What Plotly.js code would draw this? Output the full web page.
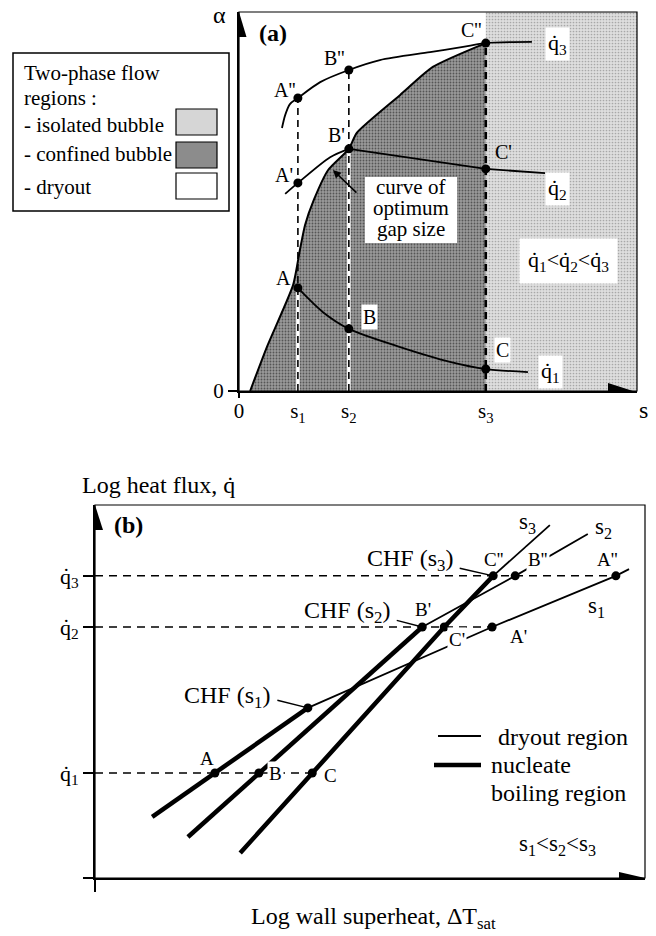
<!DOCTYPE html>
<html>
<head>
<meta charset="utf-8">
<script src="https://cdn.plot.ly/plotly-3.0.1.min.js"></script>
<style>
  html, body { margin: 0; padding: 0; background: #fff; }
  #chart { width: 656px; height: 936px; }
</style>
</head>
<body>
<div id="chart"></div>
<script>
const W = 656, H = 936;
const FONT = 'Liberation Serif, Times New Roman, Times, serif';
const LIGHT = '#d6d6d6';   // isolated bubble region
const DARK = '#8c8c8c';    // confined bubble region
const S_MAX = 10, ALPHA_MAX = 10;

// ---------- Panel (a): void fraction alpha against gap size s ----------
const gapNames = ['s<sub>1</sub>', 's<sub>2</sub>', 's<sub>3</sub>'];
const gapS = [1.48, 2.76, 6.2];
const alphaQ1 = [2.72, 1.64, 0.58];   // A, B, C
const alphaQ2 = [5.49, 6.39, 5.86];   // A', B', C'
const alphaQ3 = [7.73, 8.47, 9.18];   // A'', B'', C''
const namesQ1 = ['A', 'B', 'C'];
const namesQ2 = ["A'", "B'", "C'"];
const namesQ3 = ["A''", "B''", "C''"];

const q1CurveS = [1.48, 2.11, 2.76, 4.05, 5.3, 6.2, 7.26];
const q1CurveA = [2.72, 2.08, 1.64, 1.16, 0.77, 0.58, 0.5];
const q2RiseS = [1.16, 1.48, 2.29, 2.76];
const q2RiseA = [5.2, 5.49, 6.17, 6.39];
const q2FallS = [2.76, 6.2, 7.69];
const q2FallA = [6.39, 5.86, 5.75];
const q3CurveS = [1.08, 1.16, 1.28, 1.48, 2.04, 2.76, 3.54, 4.8, 5.63, 6.2, 7.36];
const q3CurveA = [6.94, 7.28, 7.57, 7.73, 8.15, 8.47, 8.73, 8.94, 9.08, 9.18, 9.21];

// curve of optimum gap size (upper edge of the confined bubble region)
const optS = [0.28, 0.70, 1.36, 1.53, 1.66, 1.88, 2.24, 2.76, 2.96, 4.05, 4.87, 6.2];
const optA = [0, 1.16, 2.80, 3.72, 4.38, 5.04, 5.83, 6.39, 6.81, 7.81, 8.55, 9.18];

// ---------- Panel (b): log heat flux against log wall superheat ----------
const qNames = ['q\u0307<sub>1</sub>', 'q\u0307<sub>2</sub>', 'q\u0307<sub>3</sub>'];
const qLevels = [2.815, 6.73, 8.10];
const tAtQ1 = [2.18, 2.98, 3.95];     // A, B, C
const tAtQ2 = [7.22, 5.95, 6.35];     // A', B', C'
const tAtQ3 = [9.47, 7.64, 7.24];     // A'', B'', C''
const chfS1 = { t: 3.87, q: 4.56 };

const s1NucT = [1.04, 2.18, 3.87], s1NucQ = [1.64, 2.815, 4.56];
const s1DryT = [3.87, 7.22, 9.47, 9.71], s1DryQ = [4.56, 6.73, 8.10, 8.28];
const s2NucT = [1.69, 2.98, 5.95], s2NucQ = [1.10, 2.815, 6.73];
const s2DryT = [5.95, 7.64, 8.96], s2DryQ = [6.73, 8.10, 9.22];
const s3NucT = [2.64, 3.95, 6.35, 7.24], s3NucQ = [0.67, 2.815, 6.73, 8.10];
const s3DryT = [7.24, 8.27], s3DryQ = [8.10, 9.46];

const px = v => v / W;
const py = v => 1 - v / H;
const BLACK = '#000';

const traces = [];
function add(t) {
  traces.push(Object.assign({ hoverinfo: 'skip', showlegend: false }, t));
}
function path(x, y, ax, width, extra) {
  add(Object.assign({
    x, y, xaxis: ax[0], yaxis: ax[1], mode: 'lines',
    line: Object.assign({ color: BLACK, width }, extra || {})
  }));
}
const PA = ['x', 'y'], PB = ['x2', 'y2'];

// regions, stippled like the printed screens
add({ x: [gapS[2], S_MAX], y: [ALPHA_MAX, ALPHA_MAX], xaxis: 'x', yaxis: 'y', mode: 'lines',
      line: { width: 0, color: LIGHT }, fill: 'tozeroy', fillcolor: LIGHT,
      fillpattern: { shape: '.', size: 3, solidity: 0.25, fgcolor: '#a8a8a8', bgcolor: '#dedede' } });
add({ x: optS, y: optA, xaxis: 'x', yaxis: 'y', mode: 'lines',
      line: { color: BLACK, width: 2, shape: 'spline', smoothing: 0.6 },
      fill: 'tozeroy', fillcolor: DARK,
      fillpattern: { shape: '.', size: 3, solidity: 0.3, fgcolor: '#555555', bgcolor: '#9a9a9a' } });

// gap-size verticals
path([gapS[0], gapS[0]], [0, alphaQ1[0]], PA, 3.5, { color: '#fff' });
path([gapS[1], gapS[1]], [0, alphaQ2[1]], PA, 3.5, { color: '#fff' });
path([gapS[0], gapS[0]], [0, alphaQ3[0]], PA, 1.6, { dash: '7px,5px' });
path([gapS[1], gapS[1]], [0, alphaQ3[1]], PA, 1.6, { dash: '7px,5px' });
path([gapS[2], gapS[2]], [0, alphaQ3[2]], PA, 2.6, { dash: '7px,5px' });

// constant heat flux curves
path(q1CurveS, q1CurveA, PA, 1.8, { shape: 'spline', smoothing: 0.8 });
path(q2RiseS, q2RiseA, PA, 1.8, { shape: 'spline', smoothing: 0.8 });
path(q2FallS, q2FallA, PA, 1.8);
path(q3CurveS, q3CurveA, PA, 1.8, { shape: 'spline', smoothing: 0.8 });

add({ x: gapS.concat(gapS, gapS), y: alphaQ1.concat(alphaQ2, alphaQ3), xaxis: 'x', yaxis: 'y',
      mode: 'markers', marker: { color: BLACK, size: 9 } });

// panel (b): constant heat flux levels
path([0, tAtQ1[2]], [qLevels[0], qLevels[0]], PB, 1.5, { dash: '8px,6px' });
path([0, tAtQ2[0]], [qLevels[1], qLevels[1]], PB, 1.5, { dash: '8px,6px' });
path([0, tAtQ3[0]], [qLevels[2], qLevels[2]], PB, 1.5, { dash: '8px,6px' });

// boiling curves
path(s1DryT, s1DryQ, PB, 1.8);
path(s2DryT, s2DryQ, PB, 1.8);
path(s3DryT, s3DryQ, PB, 1.8);
path(s1NucT, s1NucQ, PB, 4.5);
path(s2NucT, s2NucQ, PB, 4.5);
path(s3NucT, s3NucQ, PB, 4.5);

add({ x: tAtQ1.concat(tAtQ2, tAtQ3, [chfS1.t]),
      y: tAtQ1.map(() => qLevels[0]).concat(tAtQ2.map(() => qLevels[1]), tAtQ3.map(() => qLevels[2]), [chfS1.q]),
      xaxis: 'x2', yaxis: 'y2', mode: 'markers', marker: { color: BLACK, size: 9 } });

// ---------- annotations ----------
const ann = [];
function note(o, size) {
  ann.push(Object.assign({ showarrow: false, xanchor: 'center', yanchor: 'middle',
                           font: { family: FONT, size: size || 21, color: BLACK } }, o));
}
function at(xPix, yPix, text, size, extra) {
  note(Object.assign({ xref: 'paper', yref: 'paper', x: px(xPix), y: py(yPix), text }, extra || {}), size);
}

// panel (a)
at(219, 15, '\u03b1', 24);
at(273, 33, '<b>(a)</b>', 24);
at(643, 410, 's', 24);
const shiftA = {
  q1: [[-14, 10], [21, 12], [17, 19]],
  q2: [[-14, 8], [-12, 14], [18, 17]],
  q3: [[-13, 8], [-14, 12], [-14, 13]]
};
[[alphaQ1, namesQ1, shiftA.q1, [false, true, true]],
 [alphaQ2, namesQ2, shiftA.q2, [false, false, false]],
 [alphaQ3, namesQ3, shiftA.q3, [false, false, false]]].forEach(([al, nm, sh, bg]) => {
  al.forEach((a, i) => note({ xref: 'x', yref: 'y', x: gapS[i], y: a, text: nm[i],
    xshift: sh[i][0], yshift: sh[i][1], bgcolor: bg[i] ? '#fff' : 'rgba(0,0,0,0)', borderpad: 1 }, 20));
});
at(557, 44, qNames[2], 22, { bgcolor: '#fff', borderpad: 2 });
at(557, 189, qNames[1], 22, { bgcolor: '#fff', borderpad: 2 });
at(550, 372, qNames[0], 22, { bgcolor: '#fff', borderpad: 2 });
at(568, 261, qNames[0] + '&lt;' + qNames[1] + '&lt;' + qNames[2], 22, { bgcolor: '#fff', borderpad: 8 });
['curve of', 'optimum', 'gap size'].forEach((t, i) => at(411, 187 + 21 * i, t, 21));
note({ xref: 'x', yref: 'y', x: 2.36, y: 5.83, text: '', showarrow: true, arrowhead: 2,
       arrowsize: 1, arrowwidth: 1.6, arrowcolor: BLACK, ax: 25, ay: 24 });

// legend of flow regions
at(22, 73, 'Two-phase flow', 21, { xanchor: 'left' });
at(22, 98, 'regions :', 21, { xanchor: 'left' });
at(22, 125, '- isolated bubble', 21, { xanchor: 'left' });
at(22, 154, '- confined bubble', 21, { xanchor: 'left' });
at(22, 187, '- dryout', 21, { xanchor: 'left' });

// panel (b)
at(128, 525, '<b>(b)</b>', 24);
at(80, 485, 'Log heat flux, q\u0307', 24, { xanchor: 'left' });
at(373, 918, 'Log wall superheat, \u0394T<sub>sat</sub>', 24);
at(527, 523, 's<sub>3</sub>', 23);
at(603, 528, 's<sub>2</sub>', 23);
at(596, 607, 's<sub>1</sub>', 23);
at(410, 560, 'CHF (s<sub>3</sub>)', 24);
at(347, 612, 'CHF (s<sub>2</sub>)', 24);
at(227, 697, 'CHF (s<sub>1</sub>)', 24);
at(557, 845, 's<sub>1</sub>&lt;s<sub>2</sub>&lt;s<sub>3</sub>', 23);
at(496, 737, 'dryout region', 24, { xanchor: 'left' });
at(489, 765, 'nucleate', 24, { xanchor: 'left' });
at(489, 793, 'boiling region', 24, { xanchor: 'left' });

const shiftB = {
  q1: [[-8, 15], [17, 0], [18, -2]],
  q2: [[26, -10], [1, 17], [13, -13]],
  q3: [[-8, 16], [23, 16], [1, 16]]
};
const bgB = { q1: [false, true, false], q2: [false, false, true], q3: [false, true, false] };
[[tAtQ1, 0, namesQ1, 'q1'], [tAtQ2, 1, namesQ2, 'q2'], [tAtQ3, 2, namesQ3, 'q3']].forEach(([ts, k, nm, key]) => {
  ts.forEach((t, i) => note({ xref: 'x2', yref: 'y2', x: t, y: qLevels[k], text: nm[i],
    xshift: shiftB[key][i][0], yshift: shiftB[key][i][1],
    bgcolor: bgB[key][i] ? '#fff' : 'rgba(0,0,0,0)', borderpad: 1 }, 19));
});
// leaders from the CHF labels to their points
[[tAtQ3[2], qLevels[2], -35, -8], [tAtQ2[1], qLevels[1], -27, -7], [chfS1.t, chfS1.q, -32, -8]].forEach(([t, q, dx, dy]) =>
  note({ xref: 'x2', yref: 'y2', x: t, y: q, text: '', showarrow: true, arrowhead: 0,
         arrowwidth: 1.4, arrowcolor: BLACK, ax: dx, ay: dy, standoff: 0 }));

// ---------- shapes: frames, axis arrows, legend keys ----------
const shapes = [];
function rectPix(x0, y0, x1, y1, fill, lw) {
  shapes.push({ type: 'rect', xref: 'paper', yref: 'paper', x0: px(x0), x1: px(x1), y0: py(y1), y1: py(y0),
                fillcolor: fill || 'rgba(0,0,0,0)',
                line: { color: lw === 0 ? 'rgba(0,0,0,0)' : BLACK, width: lw == null ? 1.2 : lw } });
}
function segPix(x0, y0, x1, y1, lw) {
  shapes.push({ type: 'line', xref: 'paper', yref: 'paper', x0: px(x0), x1: px(x1), y0: py(y0), y1: py(y1),
                line: { color: BLACK, width: lw } });
}
function arrow(xref, yref, xa, ya, p) {
  shapes.push({ type: 'path', xref, yref, xsizemode: 'pixel', ysizemode: 'pixel',
                xanchor: xa, yanchor: ya, path: p, fillcolor: BLACK, line: { width: 0 } });
}
rectPix(239, 12, 637, 391, null, 1.2);
rectPix(95, 505, 645, 878, null, 1.2);
segPix(239, 391, 239, 398, 2);
arrow('x', 'y', 0, ALPHA_MAX, 'M-7.5,-25L7.5,-25L0,0Z');
arrow('x', 'y', 9.9, 0, 'M-25,-8L-25,8L0,0Z');
arrow('x2', 'y2', 0, 10, 'M-8,-25L8,-25L0,0Z');
arrow('x2', 'y2', 10, 0, 'M-26,-6L-26,6L0,0Z');

// white box behind "curve of optimum gap size"
rectPix(365, 177, 457, 243, '#fff', 0);

rectPix(13, 53, 229, 211, null, 1.5);
rectPix(176, 109, 217, 135, LIGHT, 1.2);
rectPix(176, 142, 217, 168, DARK, 1.2);
rectPix(176, 173, 217, 199, '#fff', 1.2);

segPix(438, 736, 481, 736, 1.8);
segPix(434, 765, 481, 765, 4.5);

const tickFont = { family: FONT, size: 21, color: BLACK };
const layout = {
  width: W, height: H,
  margin: { l: 0, r: 0, t: 0, b: 0 },
  paper_bgcolor: '#fff', plot_bgcolor: '#fff',
  showlegend: false,
  font: { family: FONT, color: BLACK },
  xaxis: {
    domain: [px(239), px(637)], range: [0, S_MAX], anchor: 'y',
    showline: true, linewidth: 2, linecolor: BLACK, showgrid: false, zeroline: false,
    tickmode: 'array', tickvals: [0].concat(gapS), ticktext: ['0'].concat(gapNames),
    ticks: '', tickfont: tickFont, fixedrange: true
  },
  yaxis: {
    domain: [py(391), py(12)], range: [0, ALPHA_MAX], anchor: 'x',
    showline: true, linewidth: 2, linecolor: BLACK, showgrid: false, zeroline: false,
    tickmode: 'array', tickvals: [0], ticktext: ['0'],
    ticks: 'outside', ticklen: 9, tickwidth: 2, tickcolor: BLACK, tickfont: tickFont, fixedrange: true
  },
  xaxis2: {
    domain: [px(95), px(645)], range: [0, 10], anchor: 'y2',
    showline: true, linewidth: 2, linecolor: BLACK, showgrid: false, zeroline: false,
    tickmode: 'array', tickvals: [0], ticktext: [''],
    ticks: 'outside', ticklen: 12, tickwidth: 2, tickcolor: BLACK, fixedrange: true
  },
  yaxis2: {
    domain: [py(878), py(505)], range: [0, 10], anchor: 'x2',
    showline: true, linewidth: 2, linecolor: BLACK, showgrid: false, zeroline: false,
    tickmode: 'array', tickvals: [0].concat(qLevels), ticktext: [''].concat(qNames),
    ticks: 'outside', ticklen: 10, tickwidth: 1.5, tickcolor: BLACK,
    tickfont: { family: FONT, size: 22, color: BLACK }, fixedrange: true
  },
  annotations: ann,
  shapes: shapes
};

Plotly.newPlot('chart', traces, layout, { staticPlot: true, displayModeBar: false });
</script>
</body>
</html>
